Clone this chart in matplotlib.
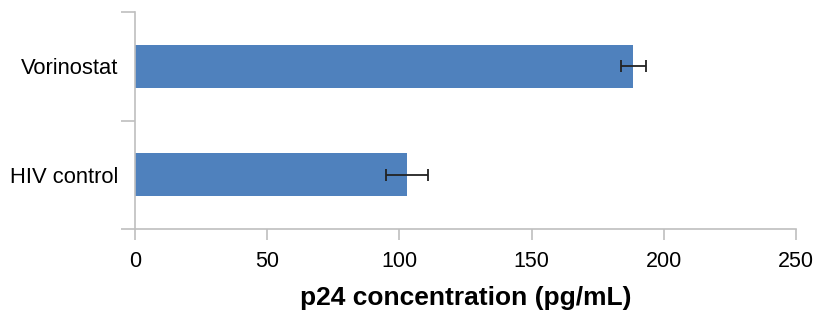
import numpy as np
import matplotlib
matplotlib.use('Agg')
import matplotlib.pyplot as plt

plt.rcParams['font.family'] = ['Liberation Sans', 'DejaVu Sans']

categories = ['HIV control', 'Vorinostat']
values = [103, 188.5]
errors = [8, 4.8]
xticks = [0, 50, 100, 150, 200, 250]

fig = plt.figure(figsize=(8.16, 3.10), dpi=100)
ax = fig.add_axes([135/816, 1 - 229/310, (796 - 135)/816, (229 - 12)/310])

y = np.arange(len(categories))
ax.barh(y, values, height=0.4, color='#4f81bd', zorder=2)
ax.errorbar(values, y, xerr=errors, fmt='none', ecolor='#222222',
            elinewidth=1.3, capsize=4.5, capthick=1.3, zorder=3)

ax.set_xlim(0, 250)
ax.set_ylim(-0.5, 1.5)
ax.set_xticks(xticks)
ax.set_xticklabels([str(t) for t in xticks], fontsize=15.5)

# category separators as major ticks, labels on minor ticks
ax.set_yticks([-0.5, 0.5, 1.5])
ax.set_yticklabels([])
ax.set_yticks(y, minor=True)
ax.set_yticklabels(categories, minor=True, fontsize=15.8)
ax.tick_params(axis='y', which='minor', length=0, pad=12)
ax.tick_params(axis='y', which='major', length=10, color='#bfbfbf', width=1.2)
ax.tick_params(axis='x', length=8, color='#bfbfbf', width=1.2, pad=8)

for s in ['top', 'right']:
    ax.spines[s].set_visible(False)
for s in ['left', 'bottom']:
    ax.spines[s].set_color('#bfbfbf')
    ax.spines[s].set_linewidth(1.2)

ax.set_xlabel('p24 concentration (pg/mL)', fontsize=19, fontweight='bold', labelpad=10)

fig.savefig('out.png', dpi=100)
